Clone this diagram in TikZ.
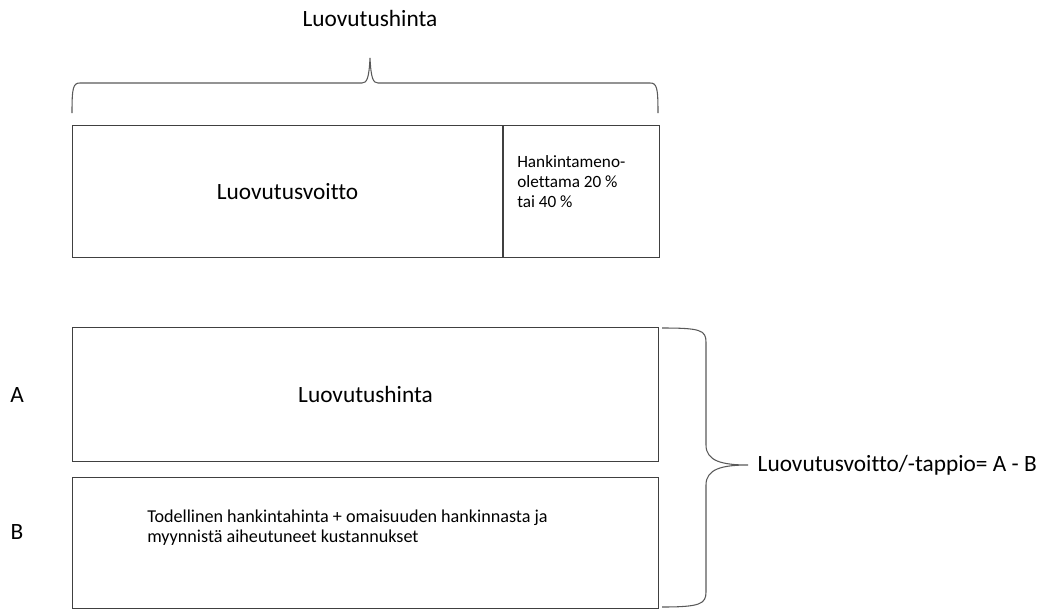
\documentclass[tikz,border=0pt]{standalone}
\usepackage{fontspec}
\setmainfont{Carlito}[Ligatures=NoCommon]
\usetikzlibrary{positioning}

\tikzset{
    box/.style={draw=black!75, line width=0.8pt, inner sep=0pt, minimum height=99pt},
    bracket/.style={draw=black!65, line width=0.8pt},
    bigtext/.style={font=\fontsize{17.5}{21}\selectfont},
}

\begin{document}
\begin{tikzpicture}[x=0.75pt,y=-0.75pt]
    \useasboundingbox (0,0) rectangle (1047,608);
    \begin{scope}[bigtext]

    % upper part: price split into gain and presumed acquisition cost
    \node [bigtext] (price) at (370,18) {Luovutushinta};
    \node [box, anchor=north west, minimum width=322.5pt] (gain) at (72,125) {Luovutusvoitto};
    \node [box, right=0pt of gain, minimum width=117pt] (presumed) {};
    \node [anchor=west, inner sep=0pt, align=left, font=\fontsize{12.9}{15}\selectfont] (presumedtext) at (517,182)
          {Hankintameno-\\olettama 20 \%\\tai 40 \%};
    \draw [bracket] (72,113) .. controls (72,88) and (73,83) .. (80,83) -- (362,83)
          .. controls (367,83) and (369,78) .. (370,58)
          .. controls (371,78) and (373,83) .. (378,83) -- (650,83)
          .. controls (657,83) and (658,88) .. (658,113);

    % lower part: A - B
    \node [box, anchor=north west, minimum width=439.5pt, minimum height=100.5pt] (sale) at (72,327) {Luovutushinta};
    \node [box, below=11.25pt of sale, minimum width=439.5pt, minimum height=98.25pt] (costbox) {};
    \node [anchor=west, inner sep=0pt, align=left, font=\fontsize{13.6}{15}\selectfont] (cost) at (147,528)
          {Todellinen hankintahinta + omaisuuden hankinnasta ja\\myynnistä aiheutuneet kustannukset};
    \node (A) at (17,395) {A};
    \node (B) at (17,532) {B};
    \draw [bracket] (662,328) .. controls (700,328) and (706,330) .. (706,342) -- (706,445)
          .. controls (706,461) and (722,465) .. (748,465)
          .. controls (722,465) and (706,469) .. (706,485) -- (706,592)
          .. controls (706,604) and (700,607) .. (662,607);
    \node [anchor=west] (result) at (753,465) {Luovutusvoitto/-tappio= A - B};
    \end{scope}
\end{tikzpicture}
\end{document}
